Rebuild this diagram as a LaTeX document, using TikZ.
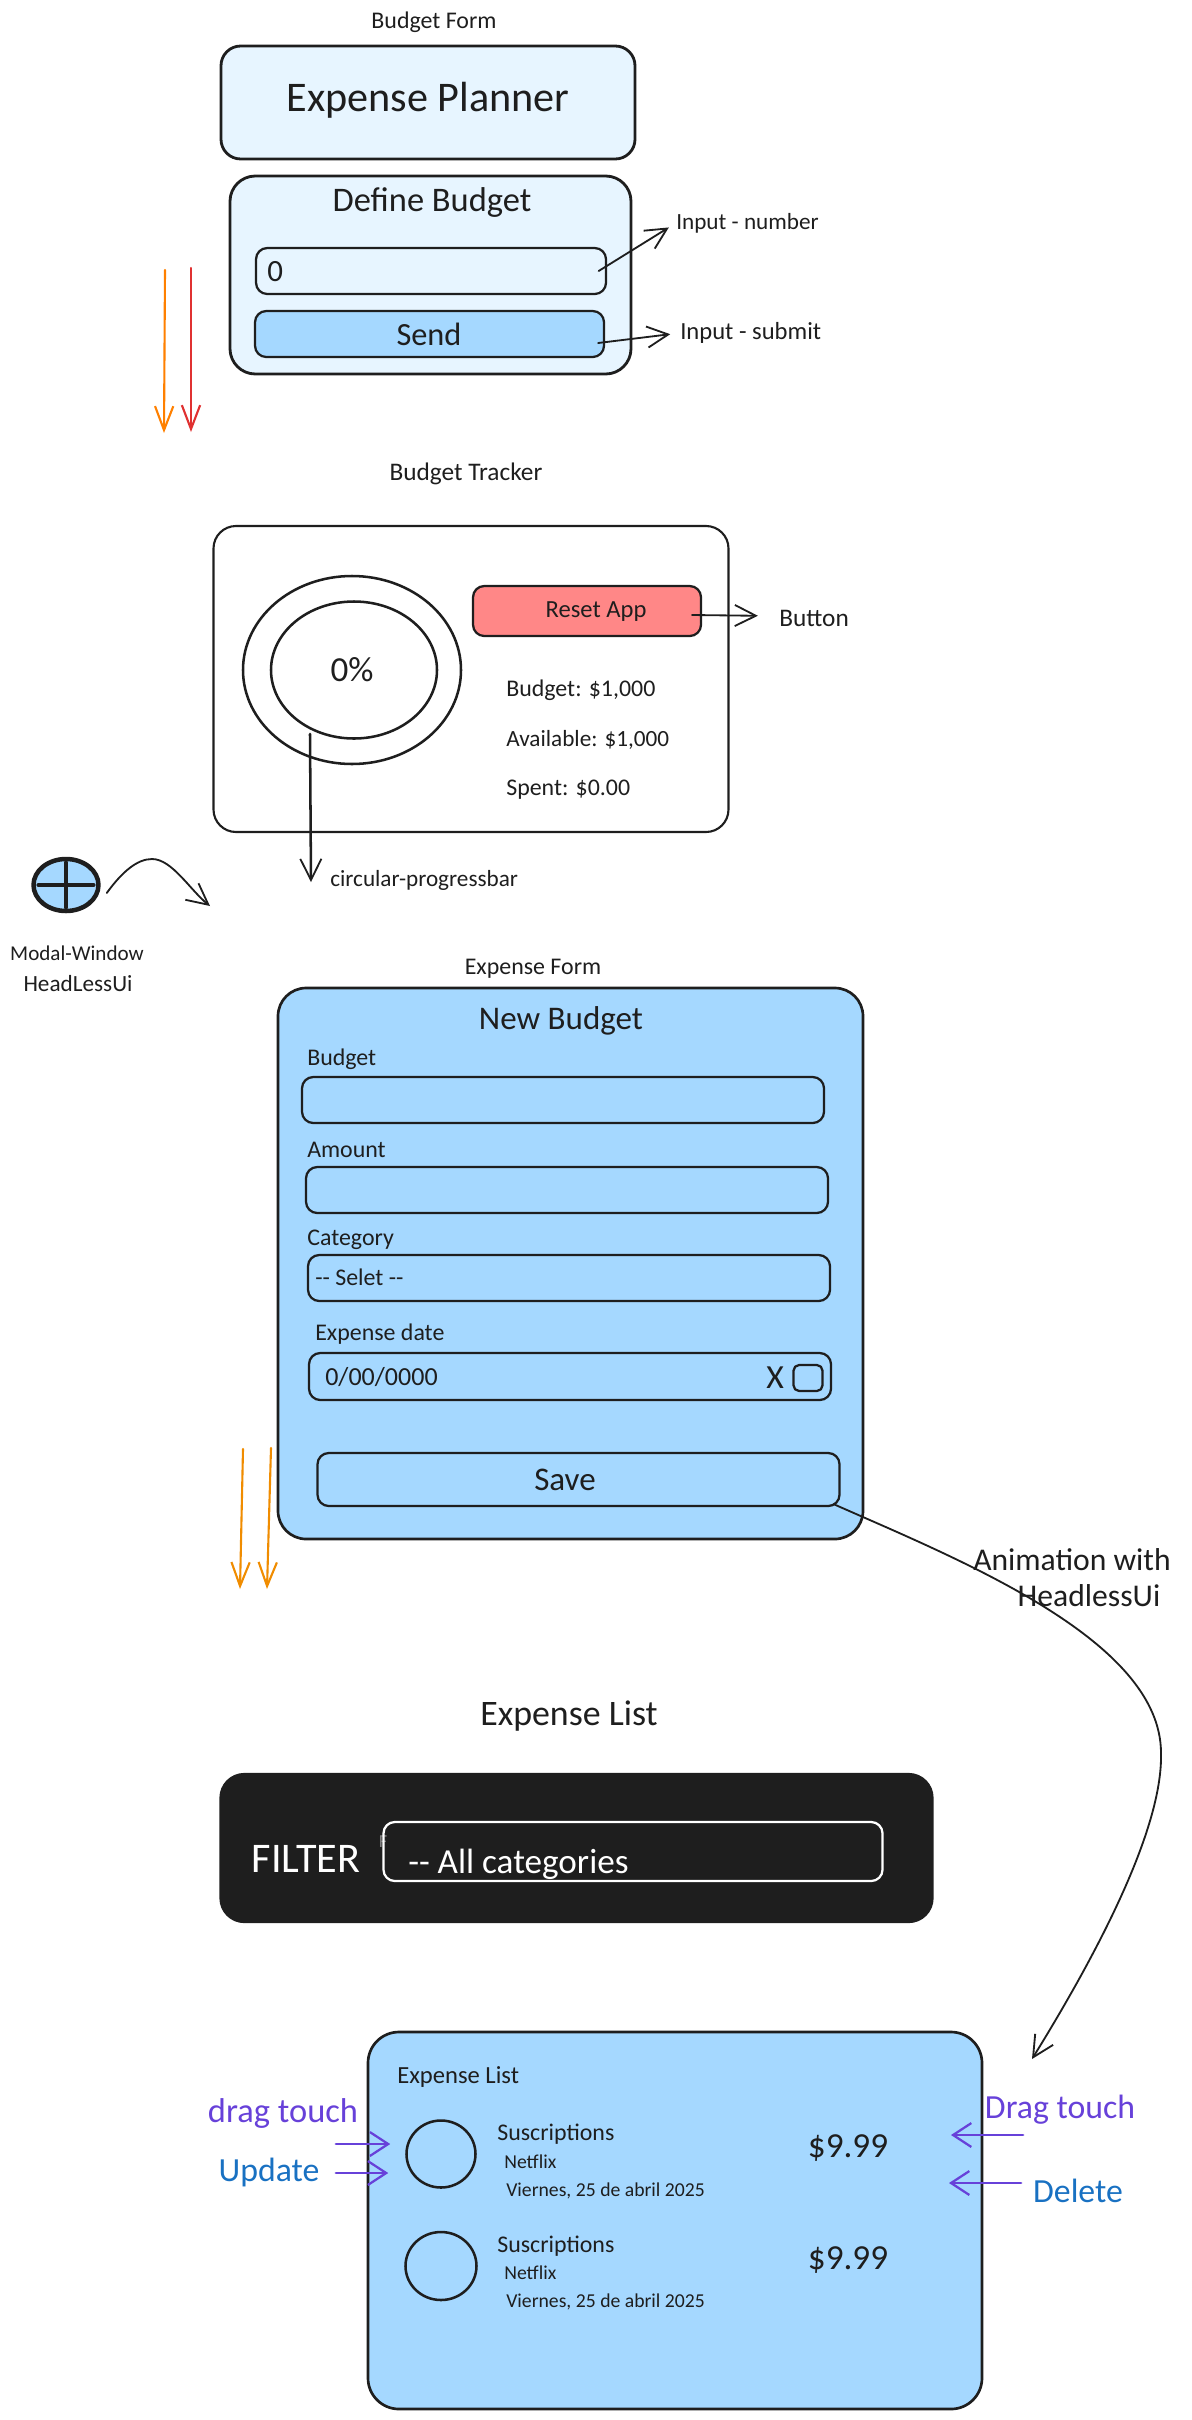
\documentclass[tikz,border=0pt]{standalone}
\usepackage{fontspec}
\setmainfont{Carlito}
\usetikzlibrary{arrows.meta,positioning,shapes}
\definecolor{ink}{HTML}{1E1E1E}
\definecolor{palesky}{HTML}{E7F5FF}
\definecolor{sky}{HTML}{A5D8FF}
\definecolor{salmon}{HTML}{FF8787}
\definecolor{flame}{HTML}{FF8000}
\definecolor{amber}{HTML}{F08C00}
\definecolor{crimson}{HTML}{E03131}
\definecolor{violet}{HTML}{6741D9}
\definecolor{azure}{HTML}{1971C2}
\newcommand{\px}{0.025cm}
\newcommand{\fsize}[1]{\fontsize{#1}{#1}\selectfont}
\tikzset{
wire/.style={x=\px,y=-\px,line cap=round,line join=round,text=ink},
panel/.style 2 args={rectangle,draw=ink,rounded corners=16pt,line width=1.6pt,inner sep=0pt,
minimum width=#1*\px,minimum height=#2*\px},
field/.style 2 args={panel={#1}{#2},rounded corners=8pt,line width=1.6pt},
ring/.style 2 args={ellipse,draw=ink,inner sep=0pt,line width=1.8pt,
minimum width=#1*\px,minimum height=#2*\px},
caption/.style={inner sep=0pt,font=\fsize{#1}},
caption/.default={17},
lead/.style={caption=#1,anchor=west},
lead/.default={17},
tip/.style={color=ink,line width=1.3pt,-{Straight Barb[length=15pt,width=15pt,line width=1.3pt]}},
fall/.style={line width=1.5pt,-{Straight Barb[length=17pt,width=13pt,line width=1.5pt]}},
hint/.style={color=violet,line width=2pt,-{Straight Barb[length=13pt,width=17pt,line width=1.6pt]}},
}
\begin{document}
\begin{tikzpicture}[wire]
\useasboundingbox (0,0) rectangle (1191,2420);

% budget form
\node[caption] (formtitle) at (434,22) {Budget Form};
\node[panel={414}{113},rounded corners=14pt,fill=palesky,line width=2pt] (planner) at (428,102.5) {};
\node[caption=30] (plannertext) at (428,100) {Expense Planner};
\node[panel={401}{198},rounded corners=18pt,fill=palesky,line width=2pt] (definebox) at (430.5,275) {};
\node[caption=24.5] (definetitle) at (432,202) {Define Budget};
\node[field={350}{46},fill=palesky] (numinput) at (431,271) {};
\node[lead=22] (zero) at (267,272) {0};
\node[field={349}{46},fill=sky] (sendbtn) at (429.5,334) {};
\node[caption=23] (sendtext) at (429,334) {Send};
\node[lead=16.5] (numlabel) at (676,223) {Input - number};
\node[lead=17.5] (submitlabel) at (680,333) {Input - submit};
\path[tip,shorten >=6pt] ([xshift=-6pt]numinput.east) edge (numlabel.west);
\path[tip,shorten >=7pt] ([shift={(-7,9)}]sendbtn.east) edge (submitlabel.west);
\coordinate (flamefrom) at (165,270);
\coordinate (flameto) at (164,433);
\coordinate (redfrom) at (191,268);
\coordinate (redto) at (191,432);
\path[fall,color=flame] (flamefrom) edge (flameto);
\path[fall,color=crimson] (redfrom) edge (redto);

% budget tracker
\node[caption=18] (trackertitle) at (466,474) {Budget Tracker};
\node[panel={515}{306},line width=1.5pt] (trackerbox) at (471,679) {};
\node[ring={218}{188}] (outerring) at (352,670) {};
\node[ring={166}{137},font=\fsize{25}] (innerring) at (354,670) {};
\node[caption=25] (percent) at (352,670) {0\%};
\node[field={228}{50},fill=salmon] (resetbtn) at (587,611) {};
\node[caption=17.5] (resettext) at (596,612) {Reset App};
\node[lead=18] (buttonlabel) at (779,618) {Button};
\node[lead=17] (budgetline) at (506,690) {Budget: \$1,000};
\node[lead=16.5] (availline) at (506,740) {Available: \$1,000};
\node[lead=17] (spentline) at (506,790) {Spent: \$0.00};
\node[lead=16.5] (barlabel) at (330,880) {circular-progressbar};
\path[tip,shorten >=15pt] ([shift={(-10,4)}]resetbtn.east) edge ([yshift=1.4pt]buttonlabel.west);
\coordinate (barfrom) at (310,734);
\coordinate (barto) at (311,882);
\path[tip,line width=1.8pt] (barfrom) edge (barto);

% modal trigger
\node[ring={65}{52},fill=sky,line width=3.2pt] (plusbtn) at (66,885) {};
\path[color=ink,line width=2.6pt,shorten >=5pt,shorten <=5pt] (plusbtn.west) edge (plusbtn.east);
\path[color=ink,line width=2.6pt,shorten >=4pt,shorten <=4pt] (plusbtn.north) edge (plusbtn.south);
\coordinate (modalto) at (210,906);
\draw[tip] ([shift={(6,8)}]plusbtn.east) .. controls (122,872) and (137,859) .. (152,859)
.. controls (172,859) and (190,890) .. (modalto);
\node[caption=15] (modalname) at (77,953) {Modal-Window};
\node[caption=16.5] (modalkit) at (78,984) {HeadLessUi};

% expense form
\node[caption] (expensetitle) at (533,969) {Expense Form};
\node[panel={585}{551},rounded corners=20pt,fill=sky,line width=1.9pt] (formbox) at (570.5,1263.5) {};
\node[caption=23.5] (newbudget) at (561,1021) {New Budget};
\node[lead] (budgetname) at (307,1059) {Budget};
\node[field={522}{46}] (budgetinput) at (563,1100) {};
\node[lead] (amountname) at (307,1150) {Amount};
\node[field={522}{46}] (amountinput) at (567,1190) {};
\node[lead] (categoryname) at (307,1240) {Category};
\node[field={522}{46}] (categoryinput) at (569,1278) {};
\node[lead] (selecttext) at (315,1277) {-{}- Selet -{}-};
\node[lead] (datename) at (315,1334) {Expense date};
\node[field={522}{47}] (dateinput) at (570,1376.5) {};
\node[lead=18.5] (datetext) at (325,1377) {0/00/0000};
\node[caption=24] (dateclear) at (775,1378) {X};
\node[field={29}{26},rounded corners=4pt] (datepick) at (808,1378) {};
\node[field={522}{53}] (savebtn) at (578.5,1479.5) {};
\node[caption=23.5] (savetext) at (565,1480) {Save};
\coordinate (formfromA) at (243,1449);
\coordinate (formtoA) at (240,1589);
\coordinate (formfromB) at (271,1448);
\coordinate (formtoB) at (267,1589);
\path[fall,color=amber] (formfromA) edge (formtoA);
\path[fall,color=amber] (formfromB) edge (formtoB);
\node[caption=22.5] (animlineA) at (1072,1560) {Animation with};
\node[caption=22.5] (animlineB) at (1089,1596) {HeadlessUi};
\coordinate (animto) at (1032,2059);
\draw[tip] ([shift={(-7,-3)}]savebtn.south east) .. controls (960,1560) and (1161,1640) .. (1161,1753)
.. controls (1163,1830) and (1095,1957) .. (animto);

% expense list
\node[caption=25.5] (listtitle) at (569,1716) {Expense List};
\node[panel={712}{148},rounded corners=17pt,fill=ink,draw=ink] (filterbox) at (576.5,1848) {};
\node[caption=30,text=white] (filtername) at (306,1859) {FILTER};
\node[caption=13,text=gray] (filterghost) at (383,1842) {F};
\node[field={499}{59},draw=white] (filterinput) at (633,1851.5) {};
\node[lead=25,text=white] (filtertext) at (408,1864) {-{}- All categories};
\node[panel={614}{377},rounded corners=22pt,fill=sky,line width=1.9pt] (listbox) at (675,2220.5) {};
\node[lead=17.5] (listname) at (397,2077) {Expense List};
\node[ring={69}{67}] (iconA) at (441,2154) {};
\node[lead] (subA) at (497,2134) {Suscriptions};
\node[lead=14] (shopA) at (504,2162) {Netflix};
\node[lead=14] (dayA) at (506,2191) {Viernes, 25 de abril 2025};
\node[caption=25] (priceA) at (848,2148) {\$9.99};
\node[ring={71}{68}] (iconB) at (441,2266) {};
\node[lead] (subB) at (497,2246) {Suscriptions};
\node[lead=14] (shopB) at (504,2273) {Netflix};
\node[lead=14] (dayB) at (506,2302) {Viernes, 25 de abril 2025};
\node[caption=25] (priceB) at (848,2260) {\$9.99};
\node[caption=24.5,text=violet] (dragleft) at (283,2113) {drag touch};
\node[caption=24,text=azure] (update) at (269,2172) {Update};
\node[caption=24,text=violet] (dragright) at (1060,2110) {Drag touch};
\node[caption=24,text=azure] (delete) at (1078,2191) {Delete};
\coordinate (dragfrom) at (336,2144);
\coordinate (updatefrom) at (336,2173);
\coordinate (dragfromB) at (1023,2135);
\coordinate (deletefrom) at (1021,2183);
\coordinate (dragtoB) at (951,2135);
\coordinate (deleteto) at (949,2183);
\path[hint] (dragfrom) edge ([shift={(-15,-10)}]iconA.west);
\path[hint] (updatefrom) edge ([shift={(-17,19)}]iconA.west);
\path[hint] (dragfromB) edge (dragtoB);
\path[hint] (deletefrom) edge (deleteto);
\end{tikzpicture}
\end{document}
